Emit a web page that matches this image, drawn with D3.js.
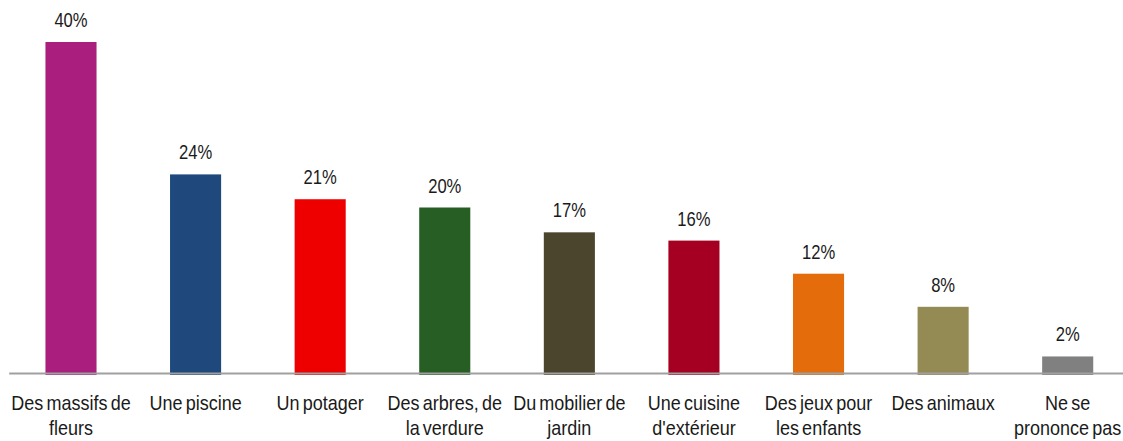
<!DOCTYPE html>
<html>
<head>
<meta charset="utf-8">
<script src="https://cdn.jsdelivr.net/npm/d3@7"></script>
<style>
  body { margin: 0; background: #fff; }
  text { font-family: "Liberation Sans", Arial, sans-serif; fill: #1a1a1a; }
</style>
</head>
<body>
<div id="chart"></div>
<script>
var width = 1123, height = 441

var categories = ["Des massifs de\nfleurs", "Une piscine", "Un potager", "Des arbres, de\nla verdure", "Du mobilier de\njardin", "Une cuisine\nd'extérieur", "Des jeux pour\nles enfants", "Des animaux", "Ne se\nprononce pas"]
var values = [40, 24, 21, 20, 17, 16, 12, 8, 2]
var colors = ["#AA1E7D", "#1F497D", "#EE0000", "#265E24", "#4A452C", "#A50021", "#E46C0A", "#948A54", "#808080"]

var data = categories.map((c, i) => ({ cat: c, val: values[i], color: colors[i] }))

var svg = d3.select("#chart")
  .append("svg")
    .attr("width", width)
    .attr("height", height)

var baseline = 373

var x = d3.scaleBand()
  .domain(categories)
  .range([8.7, 1130])
  .paddingInner(0.59)
  .paddingOuter(0.295)

var y = d3.scaleLinear()
  .domain([0, 40])
  .range([baseline, 42])

var cx = d => x(d.cat) + x.bandwidth() / 2

// bars
svg.selectAll("rect")
  .data(data)
  .enter()
  .append("rect")
    .attr("x", d => x(d.cat))
    .attr("y", d => y(d.val))
    .attr("width", x.bandwidth())
    .attr("height", d => baseline + 2 - y(d.val))
    .attr("fill", d => d.color)

// x axis
var xAxis = svg.append("g")
  .attr("transform", `translate(0,${baseline})`)
  .call(d3.axisBottom(x).tickSize(0).tickSizeOuter(0).tickFormat(""))

xAxis.select(".domain")
  .attr("stroke", "#A0A0A0")
  .attr("stroke-width", 2)

// category labels (multi-line, condensed)
var labels = svg.append("g")
  .selectAll("text")
  .data(data)
  .enter()
  .append("text")
    .attr("text-anchor", "middle")
    .attr("transform", d => `translate(${cx(d)},${baseline + 37}) scale(0.9,1)`)
    .style("font-size", "20px")
    .style("word-spacing", "-2px")

labels.each(function(d) {
  var t = d3.select(this)
  d.cat.split("\n").forEach((line, i) => {
    t.append("tspan")
      .attr("x", 0)
      .attr("y", i * 25)
      .text(line)
  })
})

// value labels
svg.append("g")
  .selectAll("text")
  .data(data)
  .enter()
  .append("text")
    .attr("transform", d => `translate(${cx(d)},${y(d.val) - 15}) scale(0.83,1)`)
    .attr("text-anchor", "middle")
    .style("font-size", "20px")
    .text(d => d.val + "%")
</script>
</body>
</html>
